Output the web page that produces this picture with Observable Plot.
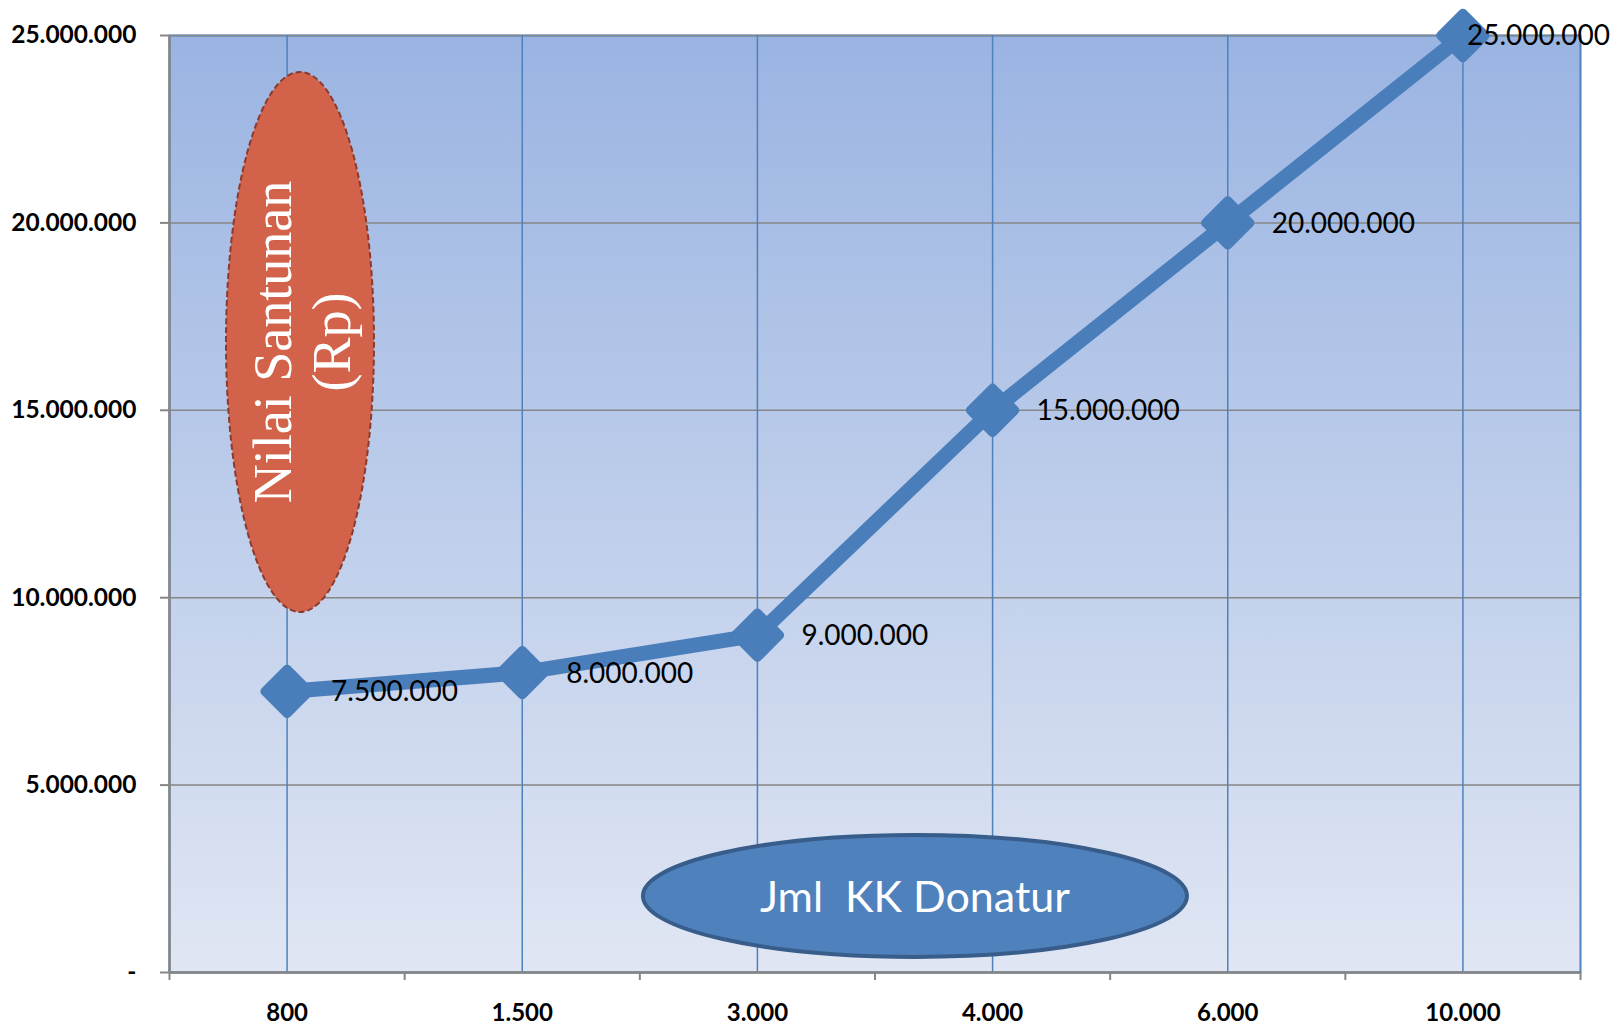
<!DOCTYPE html>
<html><head><meta charset="utf-8">
<script src="https://cdn.jsdelivr.net/npm/d3@7"></script>
<script src="https://cdn.jsdelivr.net/npm/@observablehq/plot@0.6"></script>
<style>body{margin:0;background:#fff;} #chart svg{display:block;}</style>
</head><body><div id="chart"></div>
<script>
const categories = ["800", "1.500", "3.000", "4.000", "6.000", "10.000"];
const values = [7500000, 8000000, 9000000, 15000000, 20000000, 25000000];
const yTicks = [0, 5000000, 10000000, 15000000, 20000000, 25000000];
const yTitle = ["Nilai Santunan", "(Rp)"];
const xTitle = "Jml  KK Donatur";

const fmt = d3.formatLocale({decimal: ",", thousands: ".", grouping: [3], currency: ["Rp", ""]}).format(",d");
const data = categories.map((c, i) => ({i, pos: i + 0.5, cat: c, value: values[i], label: fmt(values[i])}));
const last = data.length - 1;

const W = 1621, H = 1028, ml = 169, mr = 41, mt = 35, mb = 56;
const lineColor = "#4A7EBB";

const plot = Plot.plot({
  width: W, height: H,
  marginLeft: ml, marginRight: mr, marginTop: mt, marginBottom: mb,
  style: {fontFamily: "Lato, sans-serif", background: "transparent", overflow: "visible", color: "black"},
  x: {type: "linear", domain: [0, categories.length]},
  y: {domain: [0, 25000000]},
  marks: [
    Plot.frame({fill: "url(#bgGrad)", stroke: "#4F81BD", strokeWidth: 2}),
    Plot.gridY(yTicks, {stroke: "#868686", strokeOpacity: 1, strokeWidth: 1.5}),
    Plot.gridX(data.map(d => d.pos), {stroke: "#4F81BD", strokeOpacity: 1, strokeWidth: 1.5}),
    Plot.ruleX([0], {stroke: "#868686", strokeWidth: 2.5}),
    Plot.ruleY([0], {stroke: "#868686", strokeWidth: 2.5}),
    Plot.axisY(yTicks, {tickSize: 9, tickPadding: 24, tickFormat: d => d === 0 ? "-" : fmt(d),
      fontSize: 24.5, fontWeight: "bold", stroke: "#868686", strokeWidth: 2, fill: "black", label: null}),
    Plot.axisX(d3.range(0, categories.length + 1), {tickSize: 8, tickFormat: () => "",
      stroke: "#868686", strokeWidth: 2, label: null}),
    Plot.axisX(data.map(d => d.pos), {tickSize: 0, tickPadding: 31, tickFormat: d => categories[Math.round(d - 0.5)],
      fontSize: 24, fontWeight: "bold", fill: "black", label: null}),
    Plot.line(data, {x: "pos", y: "value", stroke: lineColor, strokeWidth: 15, strokeLinejoin: "round", strokeLinecap: "round"}),
    Plot.dot(data, {x: "pos", y: "value", symbol: "diamond2", r: 20, fill: lineColor, stroke: lineColor, strokeWidth: 9, strokeLinejoin: "round"}),
    Plot.text(data.filter(d => d.i !== last), {x: "pos", y: "value", text: "label", textAnchor: "start", dx: 44, dy: 1,
      fontSize: 28, fill: "black", fontFamily: "Lato, sans-serif"}),
    Plot.text(data.filter(d => d.i === last), {x: "pos", y: "value", text: "label", textAnchor: "start", dx: 4, dy: 1,
      fontSize: 28, fill: "black", fontFamily: "Lato, sans-serif"})
  ]
});

document.getElementById("chart").appendChild(plot);

const svg = d3.select(plot);
const defs = svg.insert("defs", ":first-child");
const grad = defs.append("linearGradient").attr("id", "bgGrad").attr("x1", 0).attr("y1", 0).attr("x2", 0).attr("y2", 1);
grad.append("stop").attr("offset", "0%").attr("stop-color", "#9AB4E2");
grad.append("stop").attr("offset", "100%").attr("stop-color", "#E0E6F3");

const xs = d3.scaleLinear([0, categories.length], [ml, W - mr]);
const ys = d3.scaleLinear([0, 25000000], [H - mb, mt]);

// Y title ellipse
const oc = {x: xs(0.557), y: ys(16810000)};
const og = svg.append("g");
og.append("ellipse").attr("cx", oc.x).attr("cy", oc.y).attr("rx", 74).attr("ry", 270)
  .attr("fill", "#D2634A").attr("stroke", "#8C3A2D").attr("stroke-width", 2).attr("stroke-dasharray", "6,3");
const ot = og.append("g").attr("transform", `translate(${oc.x + 3},${oc.y}) rotate(-90)`);
yTitle.forEach((t, k) => {
  ot.append("text").attr("x", 0).attr("y", (k - 0.5) * 59)
    .attr("text-anchor", "middle").attr("dominant-baseline", "central")
    .attr("fill", "white").attr("font-family", "'Liberation Serif', serif").attr("font-size", 54)
    .text(t);
});

// X title ellipse
const bc = {x: xs(3.172), y: ys(2030000)};
const bg = svg.append("g");
bg.append("ellipse").attr("cx", bc.x).attr("cy", bc.y).attr("rx", 272).attr("ry", 61)
  .attr("fill", "#4F81BD").attr("stroke", "#385D8A").attr("stroke-width", 4);
bg.append("text").attr("x", bc.x).attr("y", bc.y)
  .attr("text-anchor", "middle").attr("dominant-baseline", "central")
  .attr("fill", "white").attr("font-family", "Lato, sans-serif").attr("font-size", 43)
  .style("white-space", "pre").attr("xml:space", "preserve")
  .text(xTitle);
</script>
</body></html>
